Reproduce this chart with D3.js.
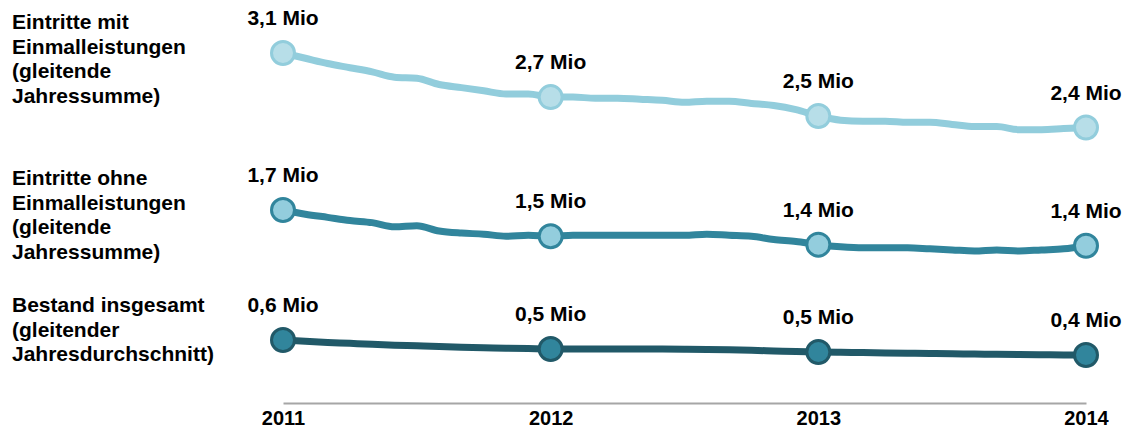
<!DOCTYPE html>
<html>
<head>
<meta charset="utf-8">
<script src="https://cdn.jsdelivr.net/npm/d3@7"></script>
<style>
  body { margin: 0; background: #fff; }
  text { font-family: "Liberation Sans", Arial, Helvetica, sans-serif; font-weight: bold; fill: #000; }
</style>
</head>
<body>
<div id="chart"></div>
<script>
// years on the x axis
const years = ['2011', '2012', '2013', '2014'];

// monthly values in Mio, Jan 2011 .. Jan 2014
const mitEinmal = [3.10, 3.05, 3.00, 2.96, 2.92, 2.87, 2.86, 2.80, 2.77, 2.74, 2.71, 2.71, 2.68,
  2.68, 2.67, 2.67, 2.66, 2.65, 2.63, 2.64, 2.64, 2.62, 2.60, 2.56, 2.50,
  2.46, 2.45, 2.45, 2.44, 2.44, 2.42, 2.40, 2.40, 2.37, 2.37, 2.38, 2.39];
const ohneEinmal = [1.72, 1.68, 1.65, 1.62, 1.60, 1.56, 1.57, 1.52, 1.50, 1.49, 1.47, 1.48, 1.47,
  1.48, 1.48, 1.48, 1.48, 1.48, 1.48, 1.49, 1.48, 1.47, 1.44, 1.42, 1.39,
  1.37, 1.36, 1.36, 1.36, 1.35, 1.34, 1.33, 1.34, 1.33, 1.34, 1.35, 1.38];
const bestand = [0.590, 0.578, 0.567, 0.558, 0.549, 0.541, 0.535, 0.528, 0.522, 0.516, 0.512, 0.508, 0.504,
  0.504, 0.504, 0.504, 0.504, 0.504, 0.502, 0.500, 0.497, 0.492, 0.486, 0.480, 0.476,
  0.473, 0.470, 0.467, 0.464, 0.461, 0.459, 0.456, 0.454, 0.452, 0.450, 0.448, 0.447];

// labels shown at the yearly points
const mitLabels = ['3,1 Mio', '2,7 Mio', '2,5 Mio', '2,4 Mio'];
const ohneLabels = ['1,7 Mio', '1,5 Mio', '1,4 Mio', '1,4 Mio'];
const bestandLabels = ['0,6 Mio', '0,5 Mio', '0,5 Mio', '0,4 Mio'];

// series names (one entry per line of text)
const mitName = ['Eintritte mit', 'Einmalleistungen', '(gleitende', 'Jahressumme)'];
const ohneName = ['Eintritte ohne', 'Einmalleistungen', '(gleitende', 'Jahressumme)'];
const bestandName = ['Bestand insgesamt', '(gleitender', 'Jahresdurchschnitt)'];

const width = 1123;
const height = 428;

const svg = d3.select('#chart')
  .append('svg')
  .attr('width', width)
  .attr('height', height);

// x scale: month index -> pixel
const months = d3.range(mitEinmal.length);
const xScale = d3.scaleLinear().domain([0, months.length - 1]).range([283, 1086]);
const yearScale = d3.scalePoint().domain(years).range([283, 1086]);

// every series sits in its own band, same px per Mio
const pxPerMio = 105;
const series = [
  { values: mitEinmal, labels: mitLabels, name: mitName, top: 53, nameY: 29,
    line: '#92cddc', fill: '#b7dee8', stroke: '#92cddc' },
  { values: ohneEinmal, labels: ohneLabels, name: ohneName, top: 210, nameY: 185,
    line: '#31859c', fill: '#93cddd', stroke: '#31859c' },
  { values: bestand, labels: bestandLabels, name: bestandName, top: 340, nameY: 312,
    line: '#215968', fill: '#31859c', stroke: '#215968' },
];

series.forEach((s) => {
  const maxV = d3.max(s.values);
  const yScale = d3.scaleLinear()
    .domain([maxV - 1, maxV])
    .range([s.top + pxPerMio, s.top]);

  const valueline = d3.line()
    .x((d, i) => xScale(i))
    .y(d => yScale(d))
    .curve(d3.curveMonotoneX);

  const g = svg.append('g');

  g.append('path')
    .datum(s.values)
    .attr('d', valueline)
    .attr('fill', 'none')
    .attr('stroke', s.line)
    .attr('stroke-width', 7)
    .attr('stroke-linecap', 'round')
    .attr('stroke-linejoin', 'round');

  // yearly points: every 12th month
  const yearPts = years.map((y, k) => ({ i: k * 12, v: s.values[k * 12], label: s.labels[k] }));

  g.selectAll('circle')
    .data(yearPts)
    .enter()
    .append('circle')
    .attr('cx', d => xScale(d.i))
    .attr('cy', d => yScale(d.v))
    .attr('r', 11.5)
    .attr('fill', s.fill)
    .attr('stroke', s.stroke)
    .attr('stroke-width', 3);

  g.selectAll('.val')
    .data(yearPts)
    .enter()
    .append('text')
    .attr('class', 'val')
    .attr('x', d => xScale(d.i))
    .attr('y', d => yScale(d.v) - 28)
    .attr('text-anchor', 'middle')
    .style('font-size', '21px')
    .text(d => d.label);

  // series name on the left
  g.append('text')
    .attr('x', 12)
    .attr('y', s.nameY)
    .style('font-size', '21px')
    .selectAll('tspan')
    .data(s.name)
    .enter()
    .append('tspan')
    .attr('x', 12)
    .attr('dy', (d, i) => (i === 0 ? 0 : 24.5))
    .text(d => d);
});

// x axis
const axis = svg.append('g')
  .attr('transform', `translate(0,403)`)
  .call(d3.axisBottom(yearScale).tickSize(0).tickSizeOuter(0).tickPadding(8));

axis.select('.domain')
  .attr('stroke', '#a6a6a6')
  .attr('stroke-width', 2);

axis.selectAll('text')
  .style('font-size', '20px')
  .style('font-family', '"Liberation Sans", Arial, sans-serif')
  .style('font-weight', 'bold')
  .attr('fill', '#000');
</script>
</body>
</html>
